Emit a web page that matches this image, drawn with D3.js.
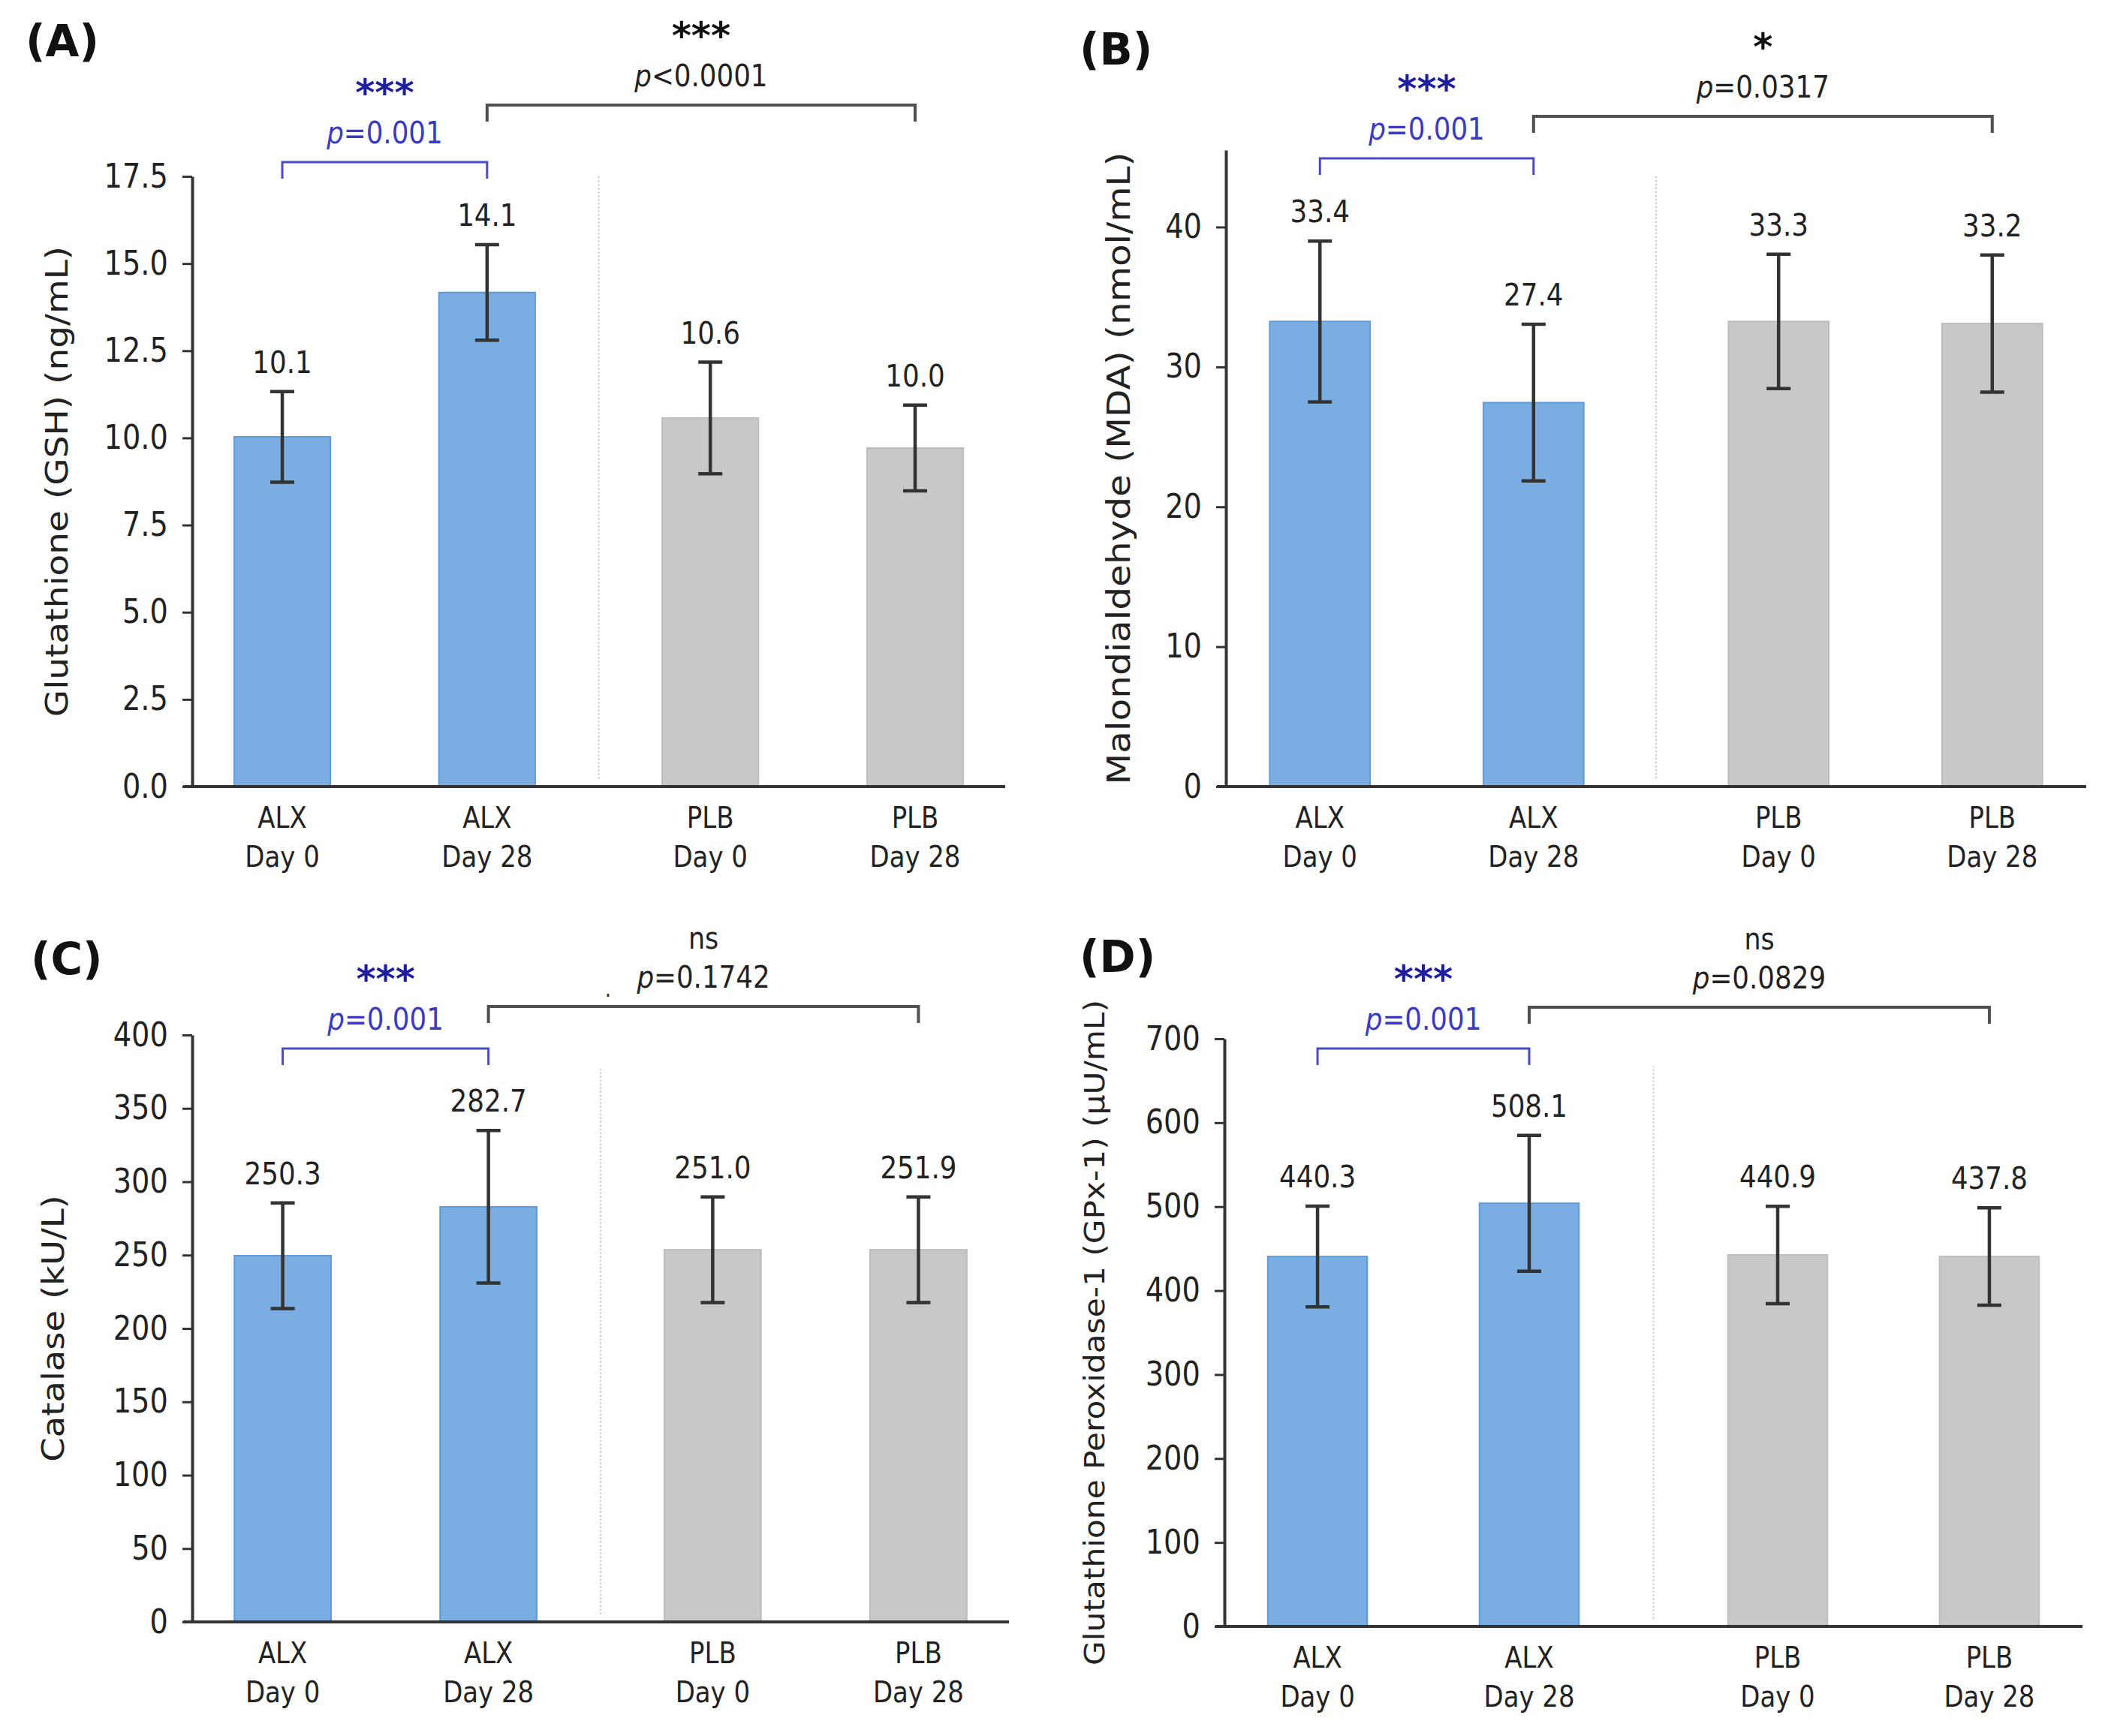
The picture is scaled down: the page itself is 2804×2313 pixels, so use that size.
<!DOCTYPE html>
<html>
<head>
<meta charset="utf-8">
<script src="https://cdn.jsdelivr.net/npm/d3@7"></script>
<style>
  body { margin: 0; background: #fff; }
  text { font-family: "DejaVu Sans", sans-serif; fill: #222; }
</style>
</head>
<body>
<div id="chart"></div>
<script>
// categories (two-line x labels)
const groupNames = ["ALX", "ALX", "PLB", "PLB"];
const dayNames   = ["Day 0", "Day 28", "Day 0", "Day 28"];

// (A) glutathione
const gshMean   = [10.03, 14.17, 10.57, 9.71];
const gshSd     = [1.30, 1.37, 1.60, 1.23];
const gshLabels = ["10.1", "14.1", "10.6", "10.0"];
const gshTicks  = [0, 2.5, 5, 7.5, 10, 12.5, 15, 17.5];

// (B) malondialdehyde
const mdaMean   = [33.25, 27.45, 33.25, 33.1];
const mdaSd     = [5.75, 5.6, 4.8, 4.9];
const mdaLabels = ["33.4", "27.4", "33.3", "33.2"];
const mdaTicks  = [0, 10, 20, 30, 40];

// (C) catalase
const catMean   = [249.6, 282.9, 253.6, 253.6];
const catSd     = [36, 52, 36, 36];
const catLabels = ["250.3", "282.7", "251.0", "251.9"];
const catTicks  = [0, 50, 100, 150, 200, 250, 300, 350, 400];

// (D) glutathione peroxidase-1
const gpxMean   = [440.6, 504, 442.5, 440.6];
const gpxSd     = [60, 81, 58, 58];
const gpxLabels = ["440.3", "508.1", "440.9", "437.8"];
const gpxTicks  = [0, 100, 200, 300, 400, 500, 600, 700];

// significance: ALX day0 vs day28 (blue), ALX day28 vs PLB day28 (black)
const withinStars = ["***", "***", "***", "***"];
const withinP     = ["=0.001", "=0.001", "=0.001", "=0.001"];
const betweenStars = ["***", "*", "ns", "ns"];
const betweenP     = ["<0.0001", "=0.0317", "=0.1742", "=0.0829"];

const panelTitles = ["(A)", "(B)", "(C)", "(D)"];
const yTitles = [
  "Glutathione (GSH) (ng/mL)",
  "Malondialdehyde (MDA) (nmol/mL)",
  "Catalase (kU/L)",
  "Glutathione Peroxidase-1 (GPx-1) (\u00b5U/mL)"
];

const SX = 0.87;            // source figure is horizontally squeezed
const BLUE_BAR = "#7aade2", BLUE_EDGE = "#5f9bd9";
const GREY_BAR = "#c8c8c8", GREY_EDGE = "#bdbdbd";
const BLUE_TXT = "#1e1ea0", BLUE_P = "#3a3ac2", BLUE_LINE = "#4a4ac8";

const W = 2804, H = 2313;
const svg = d3.select("#chart").append("svg")
  .attr("width", W).attr("height", H)
  .style("background", "#fff");

// layout of each panel (pixels)
const panels = [
  { means: gshMean, sd: gshSd, labels: gshLabels, ticks: gshTicks, fmt: d3.format(".1f"),
    yMax: 17.5, left: 256, right: 1339, top: 235, bottom: 1048, gap: 0.09, sepTop: 1.0,
    titleDx: -180, titleSize: 47, letter: [34, 75], blueY: 216, blackY: 140 },
  { means: mdaMean, sd: mdaSd, labels: mdaLabels, ticks: mdaTicks, fmt: d3.format("d"),
    yMax: 45.5, left: 1633, right: 2779, top: 200, bottom: 1048, gap: 0.147, sepTop: 0.959,
    titleDx: -143, titleSize: 48.5, letter: [1438, 86], blueY: 211, blackY: 155 },
  { means: catMean, sd: catSd, labels: catLabels, ticks: catTicks, fmt: d3.format("d"),
    yMax: 400, left: 256, right: 1344, top: 1379, bottom: 2161, gap: 0.09, sepTop: 0.946,
    titleDx: -185, titleSize: 46.5, letter: [41, 1298], blueY: 1397, blackY: 1341 },
  { means: gpxMean, sd: gpxSd, labels: gpxLabels, ticks: gpxTicks, fmt: d3.format("d"),
    yMax: 700, left: 1631, right: 2774, top: 1384, bottom: 2167, gap: 0.174, sepTop: 0.953,
    titleDx: -173, titleSize: 42.3, letter: [1438, 1295], blueY: 1397, blackY: 1342 }
];

function addText(g, x, y, str, size, opt = {}) {
  const sx = opt.noSqueeze ? 1 : SX;
  return g.append("text")
    .attr("transform", `translate(${x},${y}) scale(${sx},1)`)
    .attr("text-anchor", opt.anchor || "middle")
    .style("font-size", `${size}px`)
    .style("font-weight", opt.weight || "normal")
    .style("fill", opt.fill || "#222")
    .text(str);
}

function addPText(g, x, y, rest, size, fill) {
  const t = g.append("text")
    .attr("transform", `translate(${x},${y}) scale(${SX},1)`)
    .attr("text-anchor", "middle")
    .style("font-size", `${size}px`)
    .style("fill", fill);
  t.append("tspan").style("font-style", "italic").text("p");
  t.append("tspan").text(rest);
}

function bracket(g, x1, x2, yy, color, width) {
  const tick = 22;
  g.append("path")
    .attr("d", `M${x1},${yy + tick}V${yy}H${x2}V${yy + tick}`)
    .attr("fill", "none")
    .attr("stroke", color)
    .attr("stroke-width", width);
}

function drawPanel(p, k) {
  const g = svg.append("g");

  const y = d3.scaleLinear().domain([0, p.yMax]).range([p.bottom, p.top]);
  const pad = 0.44;
  const x = d3.scaleLinear().domain([-pad, 3 + p.gap + pad]).range([p.left, p.right]);
  const slot = i => i + (i >= 2 ? p.gap : 0);
  const bw = x(0.47) - x(0);

  // separator between the two arms
  const sepX = x((slot(1) + slot(2)) / 2);
  g.append("line")
    .attr("x1", sepX).attr("x2", sepX)
    .attr("y1", p.bottom - (p.bottom - p.top) * 0.013)
    .attr("y2", p.bottom - (p.bottom - p.top) * p.sepTop)
    .attr("stroke", "#c4c4c4")
    .attr("stroke-width", 2)
    .attr("stroke-dasharray", "2,3");

  // bars
  g.selectAll("rect.bar")
    .data(p.means)
    .enter()
    .append("rect")
    .attr("class", "bar")
    .attr("x", (d, i) => x(slot(i)) - bw / 2)
    .attr("y", d => y(d))
    .attr("width", bw)
    .attr("height", d => y(0) - y(d))
    .attr("fill", (d, i) => groupNames[i] === "ALX" ? BLUE_BAR : GREY_BAR)
    .attr("stroke", (d, i) => groupNames[i] === "ALX" ? BLUE_EDGE : GREY_EDGE)
    .attr("stroke-width", 2);

  // error bars + value labels
  const cap = 16;
  p.means.forEach((m, i) => {
    const cx = x(slot(i));
    const hi = y(m + p.sd[i]), lo = y(m - p.sd[i]);
    g.append("path")
      .attr("d", `M${cx},${lo}V${hi}M${cx - cap},${hi}H${cx + cap}M${cx - cap},${lo}H${cx + cap}`)
      .attr("fill", "none")
      .attr("stroke", "#333")
      .attr("stroke-width", 4.5);
    addText(g, cx, hi - 25, p.labels[i], 41);
  });

  // y axis
  const yAxis = g.append("g")
    .attr("transform", `translate(${p.left},0)`)
    .call(d3.axisLeft(y).tickValues(p.ticks).tickFormat(p.fmt)
      .tickSize(13).tickSizeOuter(0).tickPadding(24));
  yAxis.select(".domain").attr("stroke", "#333").attr("stroke-width", 4);
  yAxis.selectAll(".tick line").attr("stroke", "#333").attr("stroke-width", 3);
  yAxis.selectAll(".tick text")
    .attr("transform", `scale(${SX},1)`)
    .style("font-size", "44px")
    .style("font-family", "DejaVu Sans")
    .attr("fill", "#222");

  // x axis (spine only)
  g.append("line")
    .attr("x1", p.left - 12).attr("x2", p.right)
    .attr("y1", y(0)).attr("y2", y(0))
    .attr("stroke", "#333")
    .attr("stroke-width", 4);

  // x category labels
  p.means.forEach((m, i) => {
    addText(g, x(slot(i)), p.bottom + 55, groupNames[i], 39);
    addText(g, x(slot(i)), p.bottom + 107, dayNames[i], 39);
  });

  // y title
  g.append("text")
    .attr("transform", `translate(${p.left + p.titleDx},${(p.top + p.bottom) / 2}) scale(${SX},1) rotate(-90)`)
    .attr("text-anchor", "middle")
    .attr("dy", "0.35em")
    .style("font-size", `${p.titleSize}px`)
    .text(yTitles[k]);

  // panel letter
  addText(g, p.letter[0], p.letter[1], panelTitles[k], 58,
    { anchor: "start", weight: "bold", fill: "#111", noSqueeze: true });

  // within-ALX comparison (blue)
  const b1 = x(slot(0)), b2 = x(slot(1)), b3 = x(slot(3));
  const starSize = 50, pSize = 41, pBase = -25;
  const starBase = pBase - pSize * 0.93 - starSize * 0.24;
  bracket(g, b1, b2, p.blueY, BLUE_LINE, 3);
  addText(g, (b1 + b2) / 2, p.blueY + starBase, withinStars[k], starSize,
    { weight: "bold", fill: BLUE_TXT, noSqueeze: true });
  addPText(g, (b1 + b2) / 2, p.blueY + pBase, withinP[k], pSize, BLUE_P);

  // between-arm comparison (black)
  bracket(g, b2, b3, p.blackY, "#505050", 4);
  const mid = (b2 + b3) / 2;
  if (betweenStars[k] === "ns") {
    addText(g, mid, p.blackY - 77, "ns", 40);
  } else {
    addText(g, mid, p.blackY + starBase, betweenStars[k], starSize,
      { weight: "bold", fill: "#111", noSqueeze: true });
  }
  addPText(g, mid, p.blackY + pBase, betweenP[k], pSize, "#222");
}

panels.forEach(drawPanel);

// stray mark in panel (C) of the source figure
addText(svg, 810, 1328, ".", 30);
</script>
</body>
</html>
